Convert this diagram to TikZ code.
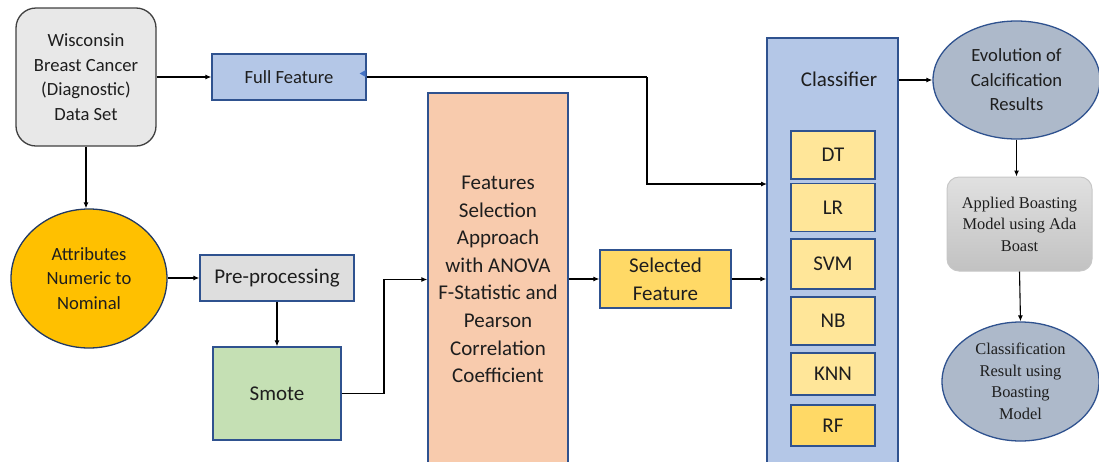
\documentclass[tikz,border=0pt]{standalone}
\usepackage{fontspec}
\setmainfont{Carlito}
\newfontfamily\tnr{Liberation Serif}
\usetikzlibrary{arrows.meta,shapes.geometric}

\definecolor{edgeblue}{HTML}{2F528F}
\definecolor{boxblue}{HTML}{B4C7E7}
\definecolor{boxgray}{HTML}{DEDEDE}
\definecolor{boxgreen}{HTML}{C5E0B4}
\definecolor{boxpeach}{HTML}{F8CBAD}
\definecolor{boxgold}{HTML}{FFD966}
\definecolor{boxcream}{HTML}{FFE699}
\definecolor{ovalorange}{HTML}{FFC000}
\definecolor{ovalslate}{HTML}{ADB9CA}
\definecolor{txt}{HTML}{1E1E1E}
\definecolor{tipblue}{HTML}{4472C4}

\tikzset{
  base/.style={inner sep=0pt, align=center, text=txt, line width=1.3pt, draw=edgeblue},
  blk/.style={base, rectangle},
  oval/.style={base, ellipse},
  small/.style={font=\fontsize{18.6}{24.6}\selectfont},
  big/.style={font=\fontsize{21}{27.6}\selectfont},
  serif/.style={font=\tnr\fontsize{16.4}{21.5}\selectfont},
  arr/.style={line width=1.1pt, draw=black, -{Latex[length=6pt,width=5pt]}},
  wire/.style={line width=1.1pt, draw=black},
  algo/.style={blk, big, fill=boxcream, minimum width=84pt},
}

\begin{document}
\begin{tikzpicture}[x=1pt,y=-1pt]
\useasboundingbox (0,0) rectangle (1099,461);

% data source and first branch
\node[blk, small, rounded corners=20pt, draw=black!75, fill=black!9,
      minimum width=140pt, minimum height=138pt] (wb) at (86,77)
  {Wisconsin\\Breast Cancer\\(Diagnostic)\\Data Set};
\node[blk, small, fill=boxblue, minimum width=154pt, minimum height=46pt] (ff) at (289,77)
  {Full Feature};
\node[oval, small, fill=ovalorange, draw=edgeblue!70!black, minimum width=156pt, minimum height=139pt] (att) at (89,278.5)
  {Attributes\\Numeric to\\Nominal};

% preprocessing chain
\node[blk, big, fill=boxgray, minimum width=154pt, minimum height=46pt] (pp) at (277,278)
  {Pre-processing};
\node[blk, big, fill=boxgreen, minimum width=128pt, minimum height=93pt] (sm) at (277,393.5)
  {Smote};
\node[blk, big, fill=boxpeach, minimum width=140pt, minimum height=373pt] (fs) at (498,279.5)
  {Features\\Selection\\Approach\\with ANOVA\\F-Statistic and\\Pearson\\Correlation\\Coefficient};
\node[blk, big, fill=boxgold, minimum width=131pt, minimum height=58pt] (sf) at (665.5,279)
  {Selected\\Feature};

% classifier column
\node[blk, fill=boxblue, minimum width=131pt, minimum height=432pt] (clf) at (832.5,254) {};
\node[big, text=txt, inner sep=0pt] (clft) at (839,79) {Classifier};
\node[algo, minimum height=48pt] (dt)  at (833,155)   {DT};
\node[algo, minimum height=48pt] (lr)  at (833,207.5) {LR};
\node[algo, minimum height=50pt] (svm) at (833,264)   {SVM};
\node[algo, minimum height=48pt] (nb)  at (833,321)   {NB};
\node[algo, minimum height=42pt] (knn) at (833,374)   {KNN};
\node[algo, fill=boxgold, minimum height=41pt] (rf) at (833,425.5) {RF};

% evaluation and boosting
\node[oval, small, fill=ovalslate, minimum width=167pt, minimum height=118pt] (ev) at (1016.5,80)
  {Evolution of\\Calcification\\Results};
\node[blk, serif, rounded corners=12pt, draw=black!22, line width=1pt,
      top color=black!12, bottom color=black!24,
      minimum width=145pt, minimum height=94pt] (ap) at (1019.5,224)
  {Applied Boasting\\Model using Ada\\Boast};
\node[oval, serif, fill=ovalslate, minimum width=157pt, minimum height=119pt] (cr) at (1020.5,381.5)
  {Classification\\Result using\\Boasting\\Model};

% connectors
\coordinate (ffturn) at (647,77);
\coordinate (fullin) at (767,184);
\coordinate (smturn) at (384,393.5);

\draw[arr] (wb.east |- ff.west) -- (ff.west);
\draw[arr] (wb.south) -- (wb.south |- att.north);
\draw[arr] (att.east |- pp.west) -- (pp.west);
\draw[arr] (pp.south) -- (sm.north);
\draw[wire] (sm.east) -- (smturn);
\draw[arr] (smturn) |- (fs.west);
\draw[arr] (fs.east |- sf.west) -- (sf.west);
\draw[arr] (sf.east) -- (clf.west |- sf.east);
\draw[wire] (ff.east) -- (ffturn);
\draw[arr] (ffturn) |- (fullin);
\draw[arr] (clf.east |- ev.west) -- (ev.west);
\draw[arr] (ev.south) -- (ev.south |- ap.north);
\draw[arr] (ap.south) -- (cr.north);

% small tip at the right edge of Full Feature
\fill[tipblue] ([shift={(-1,-7)}]ff.east) -- ++(-6,3.5) -- ++(6,3.5) -- cycle;
\end{tikzpicture}
\end{document}
